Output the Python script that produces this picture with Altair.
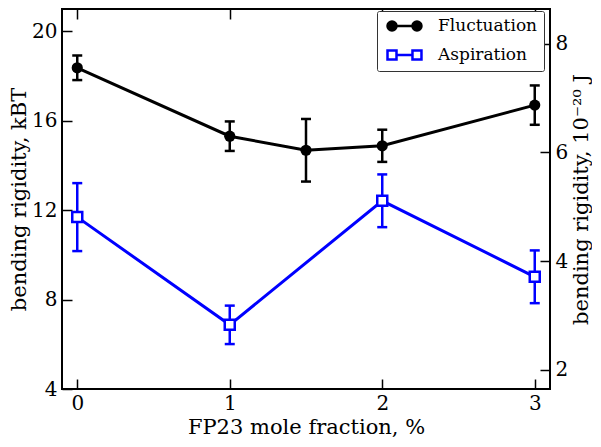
import altair as alt
import pandas as pd

# ---- data ----
fluct_x = [0, 1, 1.5, 2, 3]
fluct_values = [18.37, 15.31, 14.68, 14.88, 16.70]
fluct_errors = [0.55, 0.66, 1.40, 0.72, 0.88]

asp_x = [0, 1, 2, 3]
asp_values = [11.69, 6.87, 12.42, 9.02]
asp_errors = [1.52, 0.86, 1.18, 1.18]

series_names = ["Fluctuation", "Aspiration"]
series_strokes = ["#000000", "#0000ff"]
series_fills = ["#000000", "#ffffff"]

x_ticks = [0, 1, 2, 3]
left_ticks = [4, 8, 12, 16, 20]
right_ticks = [2, 4, 6, 8]
x_domain = [-0.1, 3.1]
left_domain = [4, 21]
kT = 0.4114  # 1 kBT expressed in 1e-20 J
right_domain = [left_domain[0] * kT, left_domain[1] * kT]

FONT = "DejaVu Serif"
BLUE = series_strokes[1]

fluct_df = pd.DataFrame({"x": fluct_x, "v": fluct_values, "e": fluct_errors})
fluct_df["lo"] = fluct_df["v"] - fluct_df["e"]
fluct_df["hi"] = fluct_df["v"] + fluct_df["e"]
asp_df = pd.DataFrame({"x": asp_x, "v": asp_values, "e": asp_errors})
asp_df["lo"] = asp_df["v"] - asp_df["e"]
asp_df["hi"] = asp_df["v"] + asp_df["e"]

xs = alt.Scale(domain=x_domain, nice=False, zero=False)
ys = alt.Scale(domain=left_domain, nice=False, zero=False)
rs = alt.Scale(domain=right_domain, nice=False, zero=False)

X = alt.X("x:Q", scale=xs, axis=None)


def series(df, color, point_mark):
    base = alt.Chart(df).encode(x=X)
    line = base.mark_line(color=color, strokeWidth=3).encode(
        y=alt.Y("v:Q", scale=ys, axis=None))
    rule = base.mark_rule(color=color, strokeWidth=2.5).encode(
        y=alt.Y("lo:Q", scale=ys, axis=None), y2="hi:Q")
    cap_lo = base.mark_tick(color=color, thickness=2.5, size=10,
                            orient="horizontal", opacity=1).encode(
        y=alt.Y("lo:Q", scale=ys, axis=None))
    cap_hi = base.mark_tick(color=color, thickness=2.5, size=10,
                            orient="horizontal", opacity=1).encode(
        y=alt.Y("hi:Q", scale=ys, axis=None))
    pts = base.mark_point(**point_mark).encode(
        y=alt.Y("v:Q", scale=ys, axis=None))
    return [line, rule, cap_lo, cap_hi, pts]


asp_layers = series(asp_df, BLUE, dict(shape="square", size=100, fill="white",
                                        stroke=BLUE, strokeWidth=2.5, opacity=1))
fluct_layers = series(fluct_df, "#000000", dict(shape="circle", size=125, filled=True,
                                                 color="#000000", opacity=1))

# legend symbols: line with two markers (custom svg paths)
path_fluct = ("M0,0 L3.33,0 "
              "M-0.6,0 A0.6,0.6 0 1,0 0.6,0 A0.6,0.6 0 1,0 -0.6,0 Z "
              "M2.73,0 A0.6,0.6 0 1,0 3.93,0 A0.6,0.6 0 1,0 2.73,0 Z")
path_asp = ("M-0.6,-0.6 L0.6,-0.6 L0.6,0.6 L-0.6,0.6 Z "
            "M2.73,-0.6 L3.93,-0.6 L3.93,0.6 L2.73,0.6 Z "
            "M0.6,0 L2.73,0")

legend = alt.Legend(orient="none", legendX=315, legendY=2, title=None,
                    labelFont=FONT, labelFontSize=17, labelColor="black",
                    symbolSize=225, symbolStrokeWidth=2.5, symbolOpacity=1,
                    labelOffset=37, padding=6, rowPadding=9,
                    strokeColor="#333333", fillColor="white", cornerRadius=2)

guide_df = pd.DataFrame({"series": series_names, "x": [-5, -5], "v": [10, 10]})
guide = alt.Chart(guide_df).mark_point(clip=True, opacity=1, size=225).encode(
    x=alt.X("x:Q", scale=xs,
            axis=alt.Axis(orient="bottom", values=x_ticks, format="d",
                          title="FP23 mole fraction, %", offset=-10, tickSize=10,
                          labelPadding=4, titlePadding=3)),
    y=alt.Y("v:Q", scale=ys,
            axis=alt.Axis(orient="left", values=left_ticks, format="d",
                          title="bending rigidity, kBT", offset=-10, tickSize=10,
                          labelPadding=5, titlePadding=2)),
    stroke=alt.Stroke("series:N", scale=alt.Scale(domain=series_names, range=series_strokes),
                      legend=legend),
    fill=alt.Fill("series:N", scale=alt.Scale(domain=series_names, range=series_fills),
                  legend=legend),
    shape=alt.Shape("series:N", scale=alt.Scale(domain=series_names,
                                                range=[path_fluct, path_asp]),
                    legend=legend),
)

right_df = pd.DataFrame({"x": [-5, -5], "r": [right_ticks[0], right_ticks[-1]]})
right_guide = alt.Chart(right_df).mark_point(clip=True, opacity=0).encode(
    x=alt.X("x:Q", scale=xs,
            axis=alt.Axis(orient="top", values=x_ticks, labels=False, title=None,
                          offset=-10, tickSize=10)),
    y=alt.Y("r:Q", scale=rs,
            axis=alt.Axis(orient="right", values=right_ticks, format="d",
                          title="bending rigidity, 10\u207b\u00b2\u2070 J",
                          titleAngle=270, titleBaseline="top",
                          offset=-10, tickSize=10, labelPadding=5, titlePadding=3)),
)

chart = alt.layer(*asp_layers, *fluct_layers, guide, right_guide).resolve_scale(
    x="independent", y="independent"
).properties(
    width=488, height=380, padding=0, background="white"
).configure_view(
    stroke="black", strokeWidth=2
).configure_axis(
    domain=False, grid=False, labelFont=FONT, labelFontSize=20, labelColor="black",
    titleFont=FONT, titleFontSize=21, titleFontWeight="normal", titleColor="black",
    tickColor="black", tickWidth=1.5
)

chart.save("out.html", embed_options={"renderer": "svg", "actions": False})
